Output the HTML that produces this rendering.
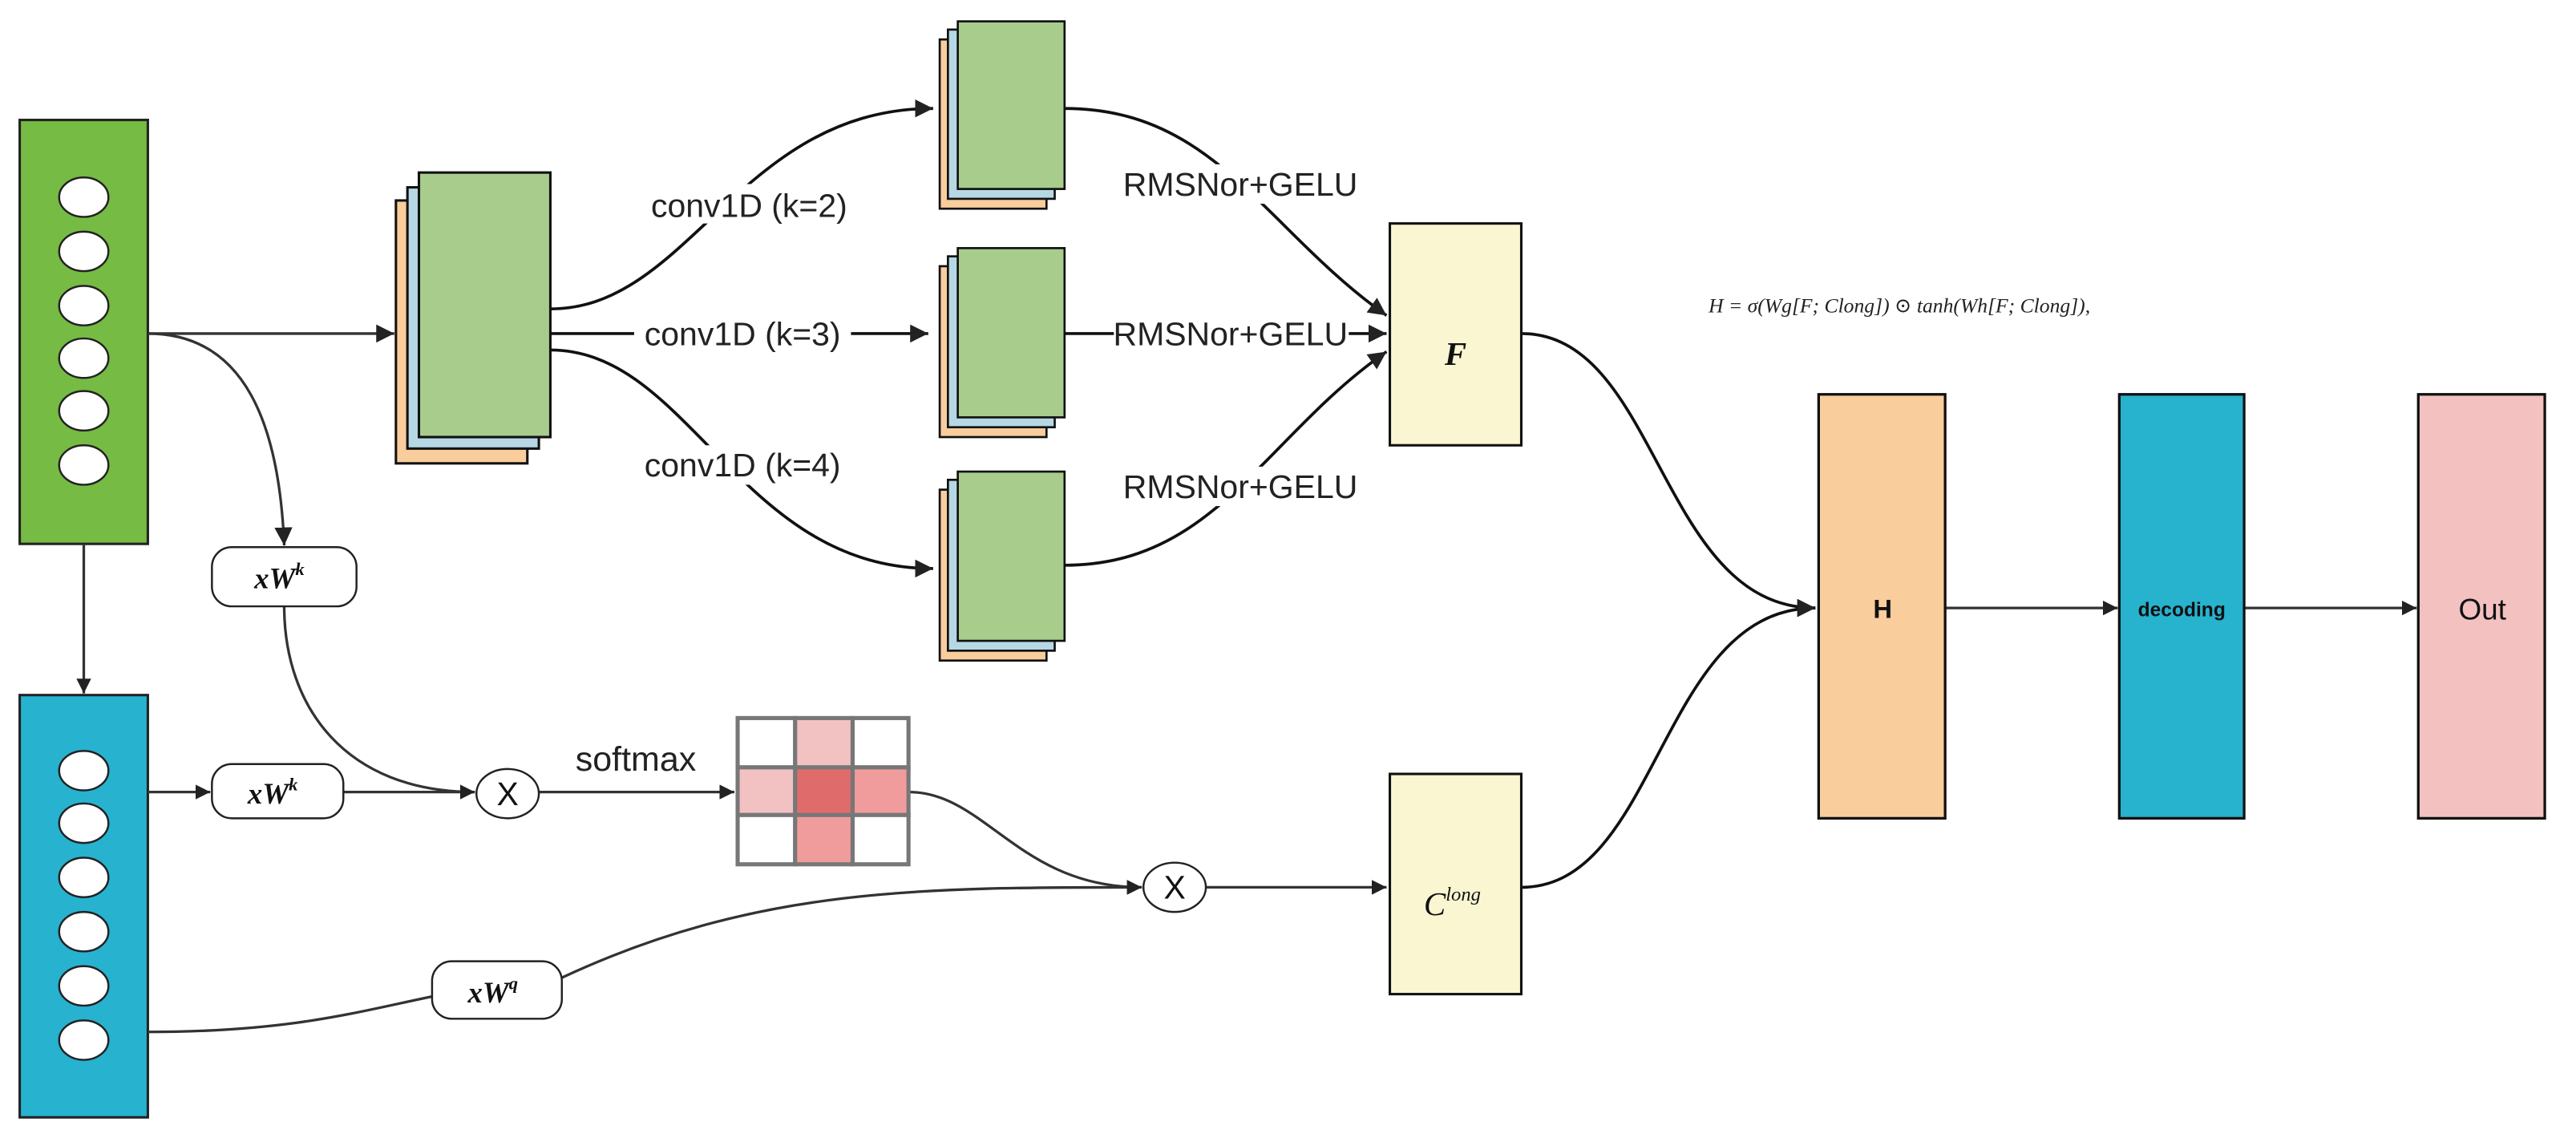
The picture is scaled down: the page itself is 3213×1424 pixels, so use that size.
<!DOCTYPE html>
<html><head><meta charset="utf-8"><style>html,body{margin:0;padding:0;background:#fff}svg{display:block}</style></head>
<body>
<svg width="3213" height="1424" viewBox="0 0 1568 695" xmlns="http://www.w3.org/2000/svg" preserveAspectRatio="none">
<defs>
<marker id="a" viewBox="0 0 10 10" refX="10" refY="5" markerWidth="9" markerHeight="9" markerUnits="userSpaceOnUse" orient="auto"><path d="M0,0L10,5L0,10z" fill="#222"/></marker>
<marker id="b" viewBox="0 0 10 10" refX="10" refY="5" markerWidth="11" markerHeight="11" markerUnits="userSpaceOnUse" orient="auto"><path d="M0,0L10,5L0,10z" fill="#222"/></marker>
</defs>
<g font-family="Liberation Sans, DejaVu Sans, sans-serif">
<rect x="12" y="73" width="78" height="258" fill="#76bb43" stroke="#222" stroke-width="1.5"/>
<g fill="#fff" stroke="#222" stroke-width="1.2">
<ellipse cx="51" cy="120" rx="15" ry="12"/><ellipse cx="51" cy="153" rx="15" ry="12"/><ellipse cx="51" cy="186" rx="15" ry="12"/><ellipse cx="51" cy="218" rx="15" ry="12"/><ellipse cx="51" cy="250" rx="15" ry="12"/><ellipse cx="51" cy="283" rx="15" ry="12"/>
</g>
<rect x="12" y="423" width="78" height="257" fill="#27b2d0" stroke="#222" stroke-width="1.5"/>
<g fill="#fff" stroke="#222" stroke-width="1.2">
<ellipse cx="51" cy="469" rx="15" ry="12"/><ellipse cx="51" cy="501" rx="15" ry="12"/><ellipse cx="51" cy="534" rx="15" ry="12"/><ellipse cx="51" cy="567" rx="15" ry="12"/><ellipse cx="51" cy="600" rx="15" ry="12"/><ellipse cx="51" cy="633" rx="15" ry="12"/>
</g>
<g fill="none" stroke="#333" stroke-width="1.6">
<path d="M51,331 L51,422" marker-end="url(#a)"/>
<path d="M90,203 L240,203" marker-end="url(#b)"/>
<path d="M90,203 C150,203 170,260 173,332" marker-end="url(#b)"/>
<path d="M90,482 L128,482" marker-end="url(#a)"/>
<path d="M209,482 L289,482" marker-end="url(#a)"/>
<path d="M173,369 C173,430 210,482 289,482" marker-end="url(#a)"/>
<path d="M328,482 L447,482" marker-end="url(#a)"/>
<path d="M553,482 C600,482 620,540 695,540" marker-end="url(#a)"/>
<path d="M90,628 C180,628 220,615 270,605"/>
<path d="M342,595 C460,540 560,540 695,540" marker-end="url(#a)"/>
<path d="M734,540 L844,540" marker-end="url(#a)"/>
<path d="M1184,370 L1289,370" marker-end="url(#a)"/>
<path d="M1366,370 L1471,370" marker-end="url(#a)"/>
</g>
<g fill="none" stroke="#111" stroke-width="1.8">
<path d="M335,188 C420,188 450,66 568,66" marker-end="url(#b)"/>
<path d="M335,203 L565,203" marker-end="url(#b)"/>
<path d="M335,213 C420,213 450,346 568,346" marker-end="url(#b)"/>
<path d="M648,66 C740,66 770,140 844,192" marker-end="url(#b)"/>
<path d="M648,203 L844,203" marker-end="url(#b)"/>
<path d="M648,344 C740,344 770,265 844,214" marker-end="url(#b)"/>
<path d="M926,203 C1010,203 1010,370 1105,370" marker-end="url(#b)"/>
<path d="M926,540 C1010,540 1010,370 1105,370" marker-end="url(#b)"/>
</g>
<g stroke="#111" stroke-width="1.5">
<rect x="241" y="122" width="80" height="160" fill="#f9cd9c"/>
<rect x="248" y="114" width="80" height="159" fill="#b5d8e4"/>
<rect x="255" y="105" width="80" height="161" fill="#a8cc8c"/>
</g>
<g stroke="#111" stroke-width="1.3">
<rect x="572" y="24" width="65" height="103" fill="#f9cd9c"/><rect x="577" y="18" width="65" height="103" fill="#b5d8e4"/><rect x="583" y="13" width="65" height="102" fill="#a8cc8c"/>
<rect x="572" y="162" width="65" height="104" fill="#f9cd9c"/><rect x="577" y="156" width="65" height="104" fill="#b5d8e4"/><rect x="583" y="151" width="65" height="103" fill="#a8cc8c"/>
<rect x="572" y="298" width="65" height="104" fill="#f9cd9c"/><rect x="577" y="292" width="65" height="104" fill="#b5d8e4"/><rect x="583" y="287" width="65" height="103" fill="#a8cc8c"/>
</g>
<g font-size="20" fill="#222" text-anchor="middle">
<rect x="390" y="112" width="132" height="24" fill="#fff"/><text x="456" y="132">conv1D (k=2)</text>
<rect x="386" y="191" width="132" height="24" fill="#fff"/><text x="452" y="210">conv1D (k=3)</text>
<rect x="386" y="271" width="132" height="24" fill="#fff"/><text x="452" y="290">conv1D (k=4)</text>
<rect x="683" y="100" width="143" height="24" fill="#fff"/><text x="755" y="119">RMSNor+GELU</text>
<rect x="678" y="191" width="143" height="24" fill="#fff"/><text x="749" y="210">RMSNor+GELU</text>
<rect x="683" y="284" width="143" height="24" fill="#fff"/><text x="755" y="303">RMSNor+GELU</text>
<text x="387" y="469" font-size="21">softmax</text>
</g>
<g fill="#fff" stroke="#222" stroke-width="1.2">
<rect x="129" y="333" width="88" height="36" rx="12"/>
<rect x="129" y="465" width="80" height="33" rx="12"/>
<rect x="263" y="585" width="79" height="35" rx="12"/>
<ellipse cx="309" cy="483" rx="19" ry="15"/>
<ellipse cx="715" cy="540" rx="19" ry="15"/>
</g>
<g font-family="Liberation Serif, DejaVu Serif, serif" font-style="italic" font-weight="bold" font-size="18" fill="#111" text-anchor="middle">
<text x="170" y="358">xW<tspan font-size="11" dy="-8">k</tspan></text>
<text x="166" y="489">xW<tspan font-size="11" dy="-8">k</tspan></text>
<text x="300" y="610">xW<tspan font-size="11" dy="-8">q</tspan></text>
</g>
<g font-size="20" fill="#111" text-anchor="middle"><text x="309" y="490">X</text><text x="715" y="547">X</text></g>
<g stroke="#777" stroke-width="2.5">
<rect x="449" y="437" width="35" height="30" fill="#fff"/><rect x="484" y="437" width="35" height="30" fill="#f2c2c2"/><rect x="519" y="437" width="34" height="30" fill="#fff"/>
<rect x="449" y="467" width="35" height="29" fill="#f2c2c2"/><rect x="484" y="467" width="35" height="29" fill="#e06b6b"/><rect x="519" y="467" width="34" height="29" fill="#f09c9c"/>
<rect x="449" y="496" width="35" height="30" fill="#fff"/><rect x="484" y="496" width="35" height="30" fill="#f09c9c"/><rect x="519" y="496" width="34" height="30" fill="#fff"/>
</g>
<g fill="#faf6d2" stroke="#111" stroke-width="1.5">
<rect x="846" y="136" width="80" height="135"/>
<rect x="846" y="471" width="80" height="134"/>
</g>
<g font-family="Liberation Serif, DejaVu Serif, serif" font-style="italic" fill="#111" text-anchor="middle">
<text x="886" y="222" font-size="20" font-weight="bold">F</text>
<text x="884" y="557" font-size="20">C<tspan font-size="12" dy="-9">long</tspan></text>
</g>
<g stroke="#111" stroke-width="1.6">
<rect x="1107" y="240" width="77" height="258" fill="#f9cd9c"/>
<rect x="1290" y="240" width="76" height="258" fill="#27b2ce"/>
<rect x="1472" y="240" width="77" height="258" fill="#f2c1c0"/>
</g>
<g fill="#111" text-anchor="middle">
<text x="1146" y="376" font-size="16" font-weight="bold">H</text>
<text x="1328" y="375" font-size="12" font-weight="bold">decoding</text>
<text x="1511" y="377" font-size="18">Out</text>
</g>
<text x="1040" y="190" font-family="Liberation Serif, DejaVu Serif, serif" font-style="italic" font-size="12.5" fill="#222">H = σ(Wg[F; Clong]) ⊙ tanh(Wh[F; Clong]),</text>
</g>
</svg>
</body></html>
